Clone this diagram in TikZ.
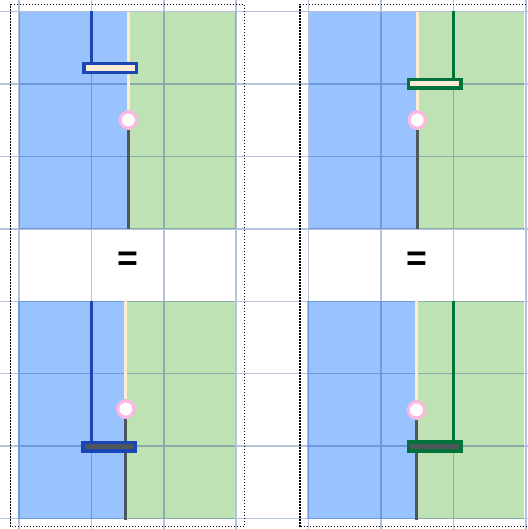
\documentclass[tikz,border=0pt]{standalone}
\usepackage{fontspec}
\newfontfamily\eqfont{Liberation Sans}
\definecolor{fillblue}{RGB}{152,195,255}
\definecolor{fillgreen}{RGB}{191,226,180}
\definecolor{gridc}{RGB}{30,70,150}
\definecolor{lineblue}{RGB}{25,70,180}
\definecolor{linegreen}{RGB}{0,115,58}
\definecolor{creamc}{RGB}{252,236,212}
\definecolor{darkgrayc}{RGB}{78,88,92}
\definecolor{pinkc}{RGB}{255,182,225}
\pgfdeclarelayer{fills}
\pgfdeclarelayer{gridl}
\pgfdeclarelayer{lines}
\pgfsetlayers{fills,gridl,lines,main}
\begin{document}
\begin{tikzpicture}[x=1cm,y=1cm,
  gridline/.style={draw=gridc, opacity=0.33, line width=0.6pt},
  framebox/.style={draw=black, line width=0.55pt, dash pattern=on 0.55pt off 0.62897pt},
  creamline/.style={draw=creamc, line width=1.2pt},
  grayline/.style={draw=darkgrayc, line width=1.25pt},
  blueline/.style={draw=lineblue, line width=1.1pt},
  greenline/.style={draw=linegreen, line width=1.1pt},
  ring/.style={circle, draw=pinkc, fill=white, line width=1.2pt, minimum size=0.225cm, inner sep=0pt},
  barbox/.style={rectangle, line width=1.4pt, minimum width=0.724cm, minimum height=0.12cm, inner sep=0pt},
  eqsign/.style={font=\eqfont\bfseries\fontsize{14}{14}\selectfont, inner sep=0pt, text=black}
]
\useasboundingbox (-0.2624,-0.145) rectangle (7.017,7.162);

% fills
\begin{pgfonlayer}{fills}
\fill[fillblue] (0,4) rectangle (1.51,7);
\fill[fillgreen] (1.51,4) rectangle (3,7);
\fill[fillblue] (4,4) rectangle (5.5,7);
\fill[fillgreen] (5.5,4) rectangle (6.98,7);
\fill[fillblue] (-0.02,0) rectangle (1.48,3);
\fill[fillgreen] (1.48,0) rectangle (2.98,3);
\fill[fillblue] (3.98,0) rectangle (5.48,3);
\fill[fillgreen] (5.48,0) rectangle (6.98,3);
\end{pgfonlayer}

% grid
\begin{pgfonlayer}{gridl}
\draw[gridline, step=1] (-0.3,-0.2) grid (7.1,7.2);
\end{pgfonlayer}

% dotted frames
\draw[framebox] (-0.115,-0.113) rectangle (3.112,7.097);
\draw[framebox] (3.881,-0.113) rectangle (7.108,7.097);

% top-left panel
\node[ring] (tlC) at (1.51,5.504) {};
\node[barbox, draw=lineblue, fill=creamc] (tlBar) at (1.26,6.222) {};
\coordinate (tlT) at (1.51,7.0);
\coordinate (tlB) at (1.51,4.0);
\coordinate (tlL) at (1.0,7.01);
\begin{pgfonlayer}{lines}
\draw[creamline] (tlT) -- (tlC);
\draw[grayline] (tlC) -- (tlB);
\draw[blueline] (tlL) -- (tlL |- tlBar.center);
\end{pgfonlayer}

% top-right panel
\node[ring] (trC) at (5.5,5.504) {};
\node[barbox, draw=linegreen, fill=creamc] (trBar) at (5.744,6.003) {};
\coordinate (trT) at (5.5,7.0);
\coordinate (trB) at (5.5,4.0);
\coordinate (trL) at (6.0,7.01);
\begin{pgfonlayer}{lines}
\draw[creamline] (trT) -- (trC);
\draw[grayline] (trC) -- (trB);
\draw[greenline] (trL) -- (trL |- trBar.center);
\end{pgfonlayer}

% bottom-left panel
\node[ring] (blC) at (1.475,1.512) {};
\node[barbox, draw=lineblue, fill=darkgrayc] (blBar) at (1.248,0.99) {};
\coordinate (blT) at (1.475,3.02);
\coordinate (blB) at (1.475,-0.02);
\coordinate (blL) at (1.0,3.01);
\begin{pgfonlayer}{lines}
\draw[creamline] (blT) -- (blC);
\draw[grayline] (blC) -- (blB);
\draw[blueline] (blL) -- (blL |- blBar.center);
\end{pgfonlayer}

% bottom-right panel
\node[ring] (brC) at (5.49,1.5) {};
\node[barbox, draw=linegreen, fill=darkgrayc] (brBar) at (5.741,0.995) {};
\coordinate (brT) at (5.49,3.02);
\coordinate (brB) at (5.49,-0.02);
\coordinate (brL) at (6.0,3.01);
\begin{pgfonlayer}{lines}
\draw[creamline] (brT) -- (brC);
\draw[grayline] (brC) -- (brB);
\draw[greenline] (brL) -- (brL |- brBar.center);
\end{pgfonlayer}

% equals signs
\node[eqsign] (eqL) at (1.51,3.55) {=};
\node[eqsign] (eqR) at (5.49,3.55) {=};
\end{tikzpicture}
\end{document}
